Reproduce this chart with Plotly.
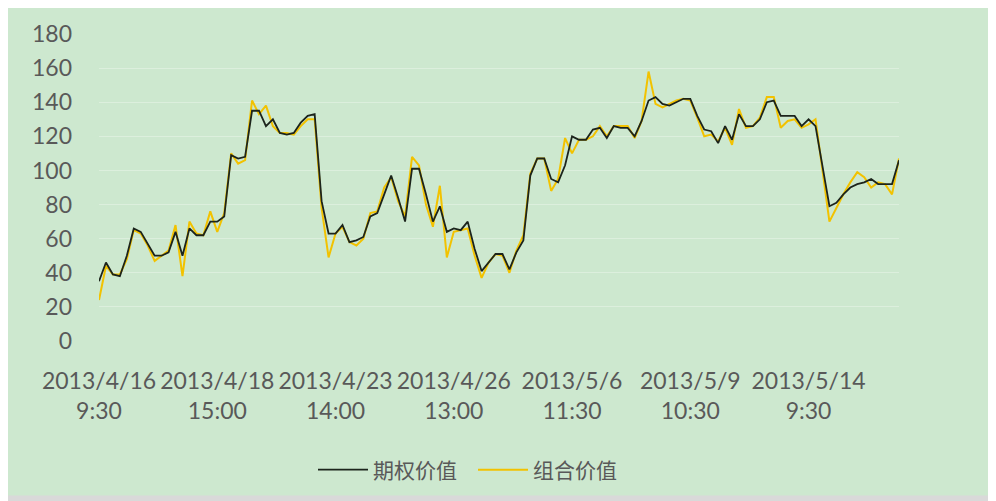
import plotly.graph_objects as go

# ~~~DATA~~~
trade_days = ['2013/4/16', '2013/4/17', '2013/4/18', '2013/4/19', '2013/4/22', '2013/4/23',
              '2013/4/24', '2013/4/25', '2013/4/26', '2013/5/2', '2013/5/3', '2013/5/6',
              '2013/5/7', '2013/5/8', '2013/5/9', '2013/5/10', '2013/5/13', '2013/5/14',
              '2013/5/15', '2013/5/16']
slots = ['9:30', '10:30', '11:30', '13:00', '14:00', '15:00']

option_value = [35, 46, 39, 38, 50, 66, 64, 57, 50, 50,
                52, 64, 50, 66, 62, 62, 70, 70, 73, 109,
                107, 108, 135, 135, 126, 130, 122, 121, 122, 128,
                132, 133, 82, 63, 63, 68, 58, 59, 61, 73,
                75, 86, 97, 84, 70, 101, 101, 86, 70, 79,
                64, 66, 65, 70, 54, 41, 46, 51, 51, 42,
                52, 59, 97, 107, 107, 95, 93, 103, 120, 118,
                118, 124, 125, 119, 126, 125, 125, 120, 129, 141,
                143, 139, 138, 140, 142, 142, 132, 124, 123, 116,
                126, 118, 133, 126, 126, 130, 140, 141, 132, 132,
                132, 126, 130, 126, 103, 79, 81, 86, 90, 92,
                93, 95, 92, 92, 92, 106]

portfolio_value = [24, 44, 39, 39, 48, 65, 63, 56, 47, 50,
                   53, 68, 38, 70, 63, 62, 76, 64, 75, 110,
                   104, 106, 141, 133, 138, 126, 122, 122, 121, 126,
                   130, 130, 78, 49, 63, 67, 58, 56, 60, 75,
                   76, 90, 96, 82, 73, 108, 103, 80, 67, 91,
                   49, 64, 65, 66, 50, 37, 46, 51, 50, 40,
                   53, 62, 98, 107, 107, 88, 95, 119, 110, 118,
                   118, 120, 126, 120, 126, 126, 126, 119, 129, 158,
                   139, 137, 139, 141, 142, 141, 131, 120, 121, 117,
                   125, 115, 136, 125, 126, 131, 143, 143, 125, 129,
                   130, 125, 127, 130, 100, 70, 78, 86, 93, 99,
                   96, 90, 93, 92, 86, 107]

# Category labels, one per bar (6 per trading day)
times = [d + ' ' + s for d in trade_days for s in slots][:len(option_value)]
tick_vals = times[::17]
tick_text = [t.replace(' ', '<br>') for t in tick_vals]

BG = '#cde8cf'
GRID = '#dcefdd'
TEXT = '#595959'

fig = go.Figure()

# Yellow drawn first so the black line sits on top
fig.add_trace(go.Scatter(x=times, y=portfolio_value, name='组合价值', mode='lines',
                         line={'color': '#f2c200', 'width': 2}, legendrank=2))
fig.add_trace(go.Scatter(x=times, y=option_value, name='期权价值', mode='lines',
                         line={'color': '#1c241c', 'width': 1.8}, legendrank=1))

# page body has an 8px margin, so the figure is sized to fill the rest
W, H = 988, 493
L, R, T, B = 91, 97, 26, 159
pw, ph = W - L - R, H - T - B

# Green chart area inside a thin grey frame
fig.add_shape(type='rect', xref='paper', yref='paper', layer='below',
              x0=-L / pw, x1=(982 - L) / pw,
              y0=(H - B - 489) / ph, y1=(H - B + 5) / ph,
              fillcolor=BG, line={'width': 0})

fig.update_layout(
    width=W, height=H,
    margin=dict(l=L, r=R, t=T, b=B),
    paper_bgcolor='#d9d9d9',
    plot_bgcolor=BG,
    font=dict(family='Lato, "Noto Sans CJK SC", sans-serif', size=23, color=TEXT),
    showlegend=True,
    legend=dict(orientation='h', x=(305 - L) / pw, xanchor='left',
                y=(H - B - 462) / ph, yanchor='middle',
                font=dict(family='"Noto Sans CJK SC", sans-serif', size=21, color=TEXT),
                bgcolor='rgba(0,0,0,0)', itemwidth=50,
                entrywidth=95, entrywidthmode='pixels'),
)

fig.update_xaxes(type='category', range=[0, len(times) - 1],
                 tickmode='array', tickvals=tick_vals, ticktext=tick_text,
                 showgrid=False, showline=False, zeroline=False, ticks='',
                 ticklabelstandoff=24)
fig.update_yaxes(range=[0, 180], dtick=20, tick0=0,
                 showgrid=True, gridcolor=GRID, gridwidth=1,
                 showline=False, zeroline=False, ticks='',
                 ticklabelstandoff=26)

fig.write_html("out.html", config={'displayModeBar': False})
